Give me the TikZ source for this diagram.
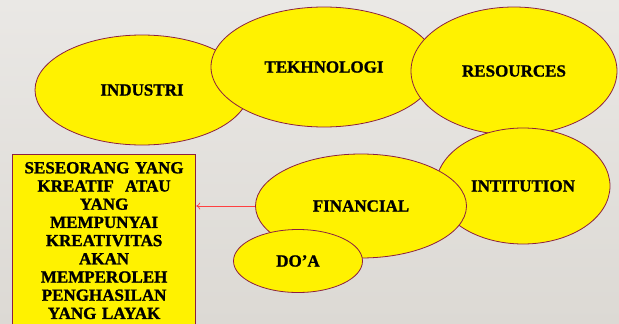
\documentclass[tikz,border=0pt]{standalone}
\usepackage{fontspec}
\setmainfont{Liberation Serif}[BoldFeatures={FakeBold=1.2}]
\usetikzlibrary{shapes.geometric,arrows.meta}
\definecolor{rim}{RGB}{140,32,64}
\definecolor{slidetop}{RGB}{234,232,229}
\definecolor{slidebot}{RGB}{220,217,212}

\begin{document}
\begin{tikzpicture}[
	x=1pt, y=-1pt,
	every node/.style={font=\fontsize{17}{18.2}\selectfont\bfseries},
	bubble/.style={ellipse, draw=rim, fill=yellow, line width=0.8pt, inner sep=0pt},
	note/.style={draw=rim, fill=yellow, line width=1.2pt, inner sep=0pt, minimum width=183pt, minimum height=172pt, text width=183pt, align=center},
	link/.style={red!75!white, line width=0.7pt, -{To[length=4pt,width=7pt]}}
]
\shade[top color=slidetop, bottom color=slidebot] (0,0) rectangle (619,324);
\clip (0,0) rectangle (619,324);

% top row
\node[bubble, minimum width=214pt, minimum height=110pt] (industri) at (142,90) {INDUSTRI};
\node[bubble, minimum width=226pt, minimum height=120pt] (tekno) at (324,67) {TEKHNOLOGI};
\node[bubble, minimum width=206pt, minimum height=128pt] (resources) at (514,71) {RESOURCES};

% lower group
\node[bubble, minimum width=174pt, minimum height=116pt] (intitution) at (523,186) {INTITUTION};
\node[bubble, minimum width=211pt, minimum height=104pt] (financial) at (361,206) {FINANCIAL};
\node[bubble, minimum width=129pt, minimum height=63pt] (doa) at (298,261) {DO’A};

\node[note, anchor=north west] (result) at (12,154) {SESEORANG YANG\\KREATIF\ \ ATAU\\YANG\\MEMPUNYAI\\KREATIVITAS\\AKAN\\MEMPEROLEH\\PENGHASILAN\\YANG LAYAK};

\draw[link] (financial.west) -- (financial.west -| result.east);
\end{tikzpicture}
\end{document}
